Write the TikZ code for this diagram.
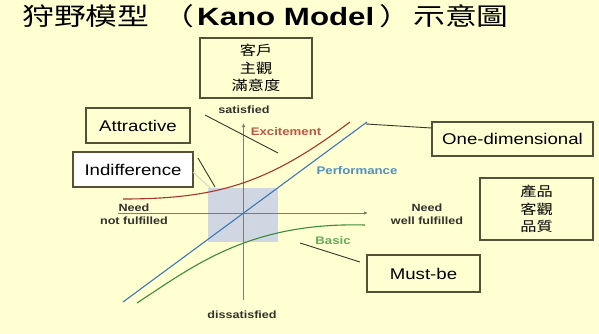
\documentclass[tikz,border=0pt]{standalone}
\usepackage{fontspec}
\setmainfont{Liberation Sans}[FakeStretch=1.2]
\newfontfamily\cjk{Noto Sans CJK TC}[FakeStretch=1.2]
\newfontfamily\tcjk{Noto Sans CJK TC}[FakeStretch=1.3]
\newfontfamily\tlatin{Liberation Sans}[FakeStretch=1.25]
\usetikzlibrary{arrows.meta}
\definecolor{bg}{RGB}{255,255,210}
\definecolor{boxline}{RGB}{85,80,55}
\definecolor{conn}{RGB}{55,55,40}
\definecolor{axisc}{RGB}{125,125,120}
\definecolor{perf}{RGB}{60,120,180}
\definecolor{perftxt}{RGB}{80,145,190}
\definecolor{exc}{RGB}{165,55,45}
\definecolor{exctxt}{RGB}{190,85,70}
\definecolor{basic}{RGB}{60,140,60}
\definecolor{basictxt}{RGB}{100,170,90}
\definecolor{zone}{RGB}{208,214,226}
\definecolor{lbl}{RGB}{50,50,45}
\definecolor{faint}{RGB}{215,215,185}
\begin{document}
\begin{tikzpicture}[x=1pt,y=-1pt,
  titlecjk/.style={inner sep=0pt,font=\tcjk\fontsize{24.5}{28}\selectfont},
  titlelat/.style={inner sep=0pt,font=\tlatin\bfseries\fontsize{25}{28}\selectfont},
  labelbox/.style={draw=boxline,line width=1.1pt,inner sep=0pt,align=center,
    font=\fontsize{15.5}{18}\selectfont},
  cjkbox/.style={draw=boxline,line width=1.1pt,inner sep=0pt,align=center,
    font=\cjk\fontsize{13.5}{17.5}\selectfont},
  axislabel/.style={inner sep=0pt,align=center,text=lbl,
    font=\bfseries\fontsize{10.5}{13}\selectfont},
  curvelabel/.style={inner sep=0pt,font=\bfseries\fontsize{11}{13}\selectfont},
  axisline/.style={draw=axisc,line width=0.9pt,-{Latex[length=4pt,width=3.5pt]}},
  connline/.style={draw=conn,line width=0.9pt}]
\useasboundingbox[fill=bg] (0,0) rectangle (599,334);

% title
\node[titlecjk,anchor=base west] (t1) at (22,25.5) {狩野模型};
\node[titlecjk,anchor=base east] (t2) at (195,25.5) {（};
\node[titlelat,anchor=base west] (t3) at (197,25.5) {Kano Model};
\node[titlecjk,anchor=base west] (t4) at (379,25.5) {）};
\node[titlecjk,anchor=base west] (t5) at (413,25.5) {示意圖};

% central zone
\fill[zone] (208,188) rectangle (278,242);

% axes
\coordinate (vb) at (243.5,300);
\coordinate (vt) at (243.5,123);
\coordinate (hl) at (118,213);
\coordinate (hr) at (368,213);
\draw[axisline] (vb) -- (vt);
\draw[axisline] (hl) -- (hr);

% curves
\coordinate (pa) at (123,302);
\coordinate (pb) at (367,122);
\draw[perf,line width=1.1pt] (pa) -- (pb);
\coordinate (ea) at (123,199);
\coordinate (eb) at (350,122);
\draw[exc,line width=1.1pt] (ea) .. controls (220,199) and (270,182) .. (eb);
\coordinate (ba) at (137,303);
\coordinate (bb) at (365,225);
\draw[basic,line width=1.1pt] (ba) .. controls (195,265) and (250,222) .. (bb);

% axis and curve labels
\node[axislabel] (sat) at (244,110) {satisfied};
\node[axislabel] (dis) at (242,315) {dissatisfied};
\node[axislabel] (nnf) at (134,214.5) {Need\\not fulfilled};
\node[axislabel] (nwf) at (427,214.5) {Need\\well fulfilled};
\node[curvelabel,text=exctxt] (exl) at (286,132) {Excitement};
\node[curvelabel,text=perftxt] (pfl) at (357,171) {Performance};
\node[curvelabel,text=basictxt] (bsl) at (333,241) {Basic};

% boxes
\node[cjkbox,minimum width=112pt,minimum height=60pt] (subj) at (256,68) {客戶\\主觀\\滿意度};
\node[cjkbox,minimum width=113pt,minimum height=62pt] (obj) at (536.5,209) {產品\\客觀\\品質};
\node[labelbox,minimum width=104pt,minimum height=35pt] (attr) at (138,125.5) {Attractive};
\node[labelbox,fill=white,minimum width=120pt,minimum height=35pt] (indiff) at (133,169.5) {Indifference};
\node[labelbox,minimum width=161pt,minimum height=34pt] (onedim) at (512.5,139) {One-dimensional};
\node[labelbox,minimum width=113pt,minimum height=37pt] (must) at (423.5,273.5) {Must-be};

% connectors
\coordinate (c1a) at (205,115);
\coordinate (c1b) at (278,153);
\draw[connline] (c1a) -- (c1b);
\coordinate (c2a) at (198,158);
\coordinate (c2b) at (215,187);
\draw[connline] (c2a) -- (c2b);
\coordinate (c2c) at (193,172);
\coordinate (c2d) at (210,188);
\draw[draw=faint,line width=0.9pt] (c2c) -- (c2d);
\coordinate (c3) at (366,124);
\draw[connline] (onedim.west |- 0,128) -- (c3);
\coordinate (c4a) at (300,243);
\coordinate (c4b) at (360,262);
\draw[connline] (c4a) -- (c4b);
\end{tikzpicture}
\end{document}
